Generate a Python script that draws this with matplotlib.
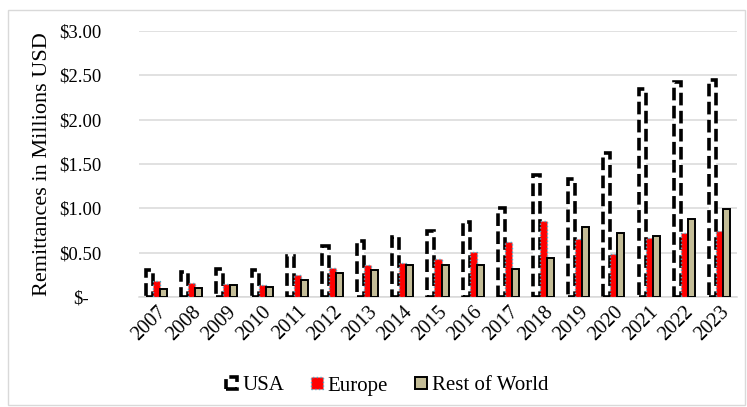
import numpy as np
import matplotlib
matplotlib.use("Agg")
import matplotlib.pyplot as plt
from matplotlib.patches import Rectangle
from matplotlib.ticker import FuncFormatter

years = [str(y) for y in range(2007, 2024)]
usa = [0.30, 0.28, 0.32, 0.31, 0.46, 0.58, 0.63, 0.68, 0.75, 0.85, 1.00,
       1.38, 1.33, 1.62, 2.35, 2.42, 2.45]
europe = [0.18, 0.16, 0.15, 0.14, 0.25, 0.33, 0.36, 0.38, 0.43, 0.51, 0.62,
          0.86, 0.65, 0.48, 0.67, 0.72, 0.74]
rest = [0.09, 0.10, 0.13, 0.11, 0.19, 0.27, 0.31, 0.36, 0.36, 0.36, 0.32,
        0.44, 0.79, 0.72, 0.69, 0.88, 0.99]

plt.rcParams["font.family"] = ["Liberation Serif", "DejaVu Serif"]

fig = plt.figure(figsize=(7.47, 4.07), dpi=100)
ax = fig.add_axes([139 / 747, 1 - 297 / 407, 598 / 747, 266 / 407])

x = np.arange(len(years))
w = 0.2
ax.bar(x - w, usa, w, facecolor="white", edgecolor="black",
       linewidth=2.6, linestyle=(0, (3.5, 1.5)), label="USA", zorder=3)
ax.bar(x, europe, w, facecolor="#ff0000", edgecolor="#4bacc6",
       linewidth=1.0, linestyle=":", label="Europe", zorder=3)
ax.bar(x + w, rest, w, facecolor="#c4bd97", edgecolor="black",
       linewidth=1.4, label="Rest of World", zorder=3)

ax.set_xlim(-0.5, len(years) - 0.5)
ax.set_ylim(0, 3.0)
ax.set_yticks(np.arange(0, 3.01, 0.5))
ax.yaxis.set_major_formatter(FuncFormatter(
    lambda v, p: "$-" if v == 0 else f"${v:.2f}"))
ax.set_xticks(x)
ax.set_xticklabels(years, rotation=45, ha="right", va="top",
                   rotation_mode="anchor", fontsize=14.5)
ax.tick_params(axis="x", length=0, pad=4)
ax.tick_params(axis="y", length=0, labelsize=13.5, pad=42)
for lab in ax.get_yticklabels():
    lab.set_horizontalalignment("center")

ax.grid(axis="y", color="#d9d9d9", linewidth=1.1, zorder=0)
for s in ["top", "right", "left"]:
    ax.spines[s].set_visible(False)
ax.spines["bottom"].set_color("#d9d9d9")
ax.spines["bottom"].set_linewidth(1.1)

ax.set_ylabel("Remittances in Millions USD", fontsize=16)
ax.yaxis.set_label_coords(-0.146, 0.5)

fig.legend(loc="center", bbox_to_anchor=(387 / 747, 1 - 386 / 407),
           ncol=3, frameon=False, fontsize=15, handlelength=0.55,
           handleheight=0.55, handletextpad=0.25, columnspacing=1.3)

fig.patches.append(Rectangle((8 / 747, 2 / 407), 737 / 747, 395 / 407,
                             transform=fig.transFigure, fill=False,
                             edgecolor="#d9d9d9", linewidth=1.0))

fig.savefig("out.png", dpi=100)
